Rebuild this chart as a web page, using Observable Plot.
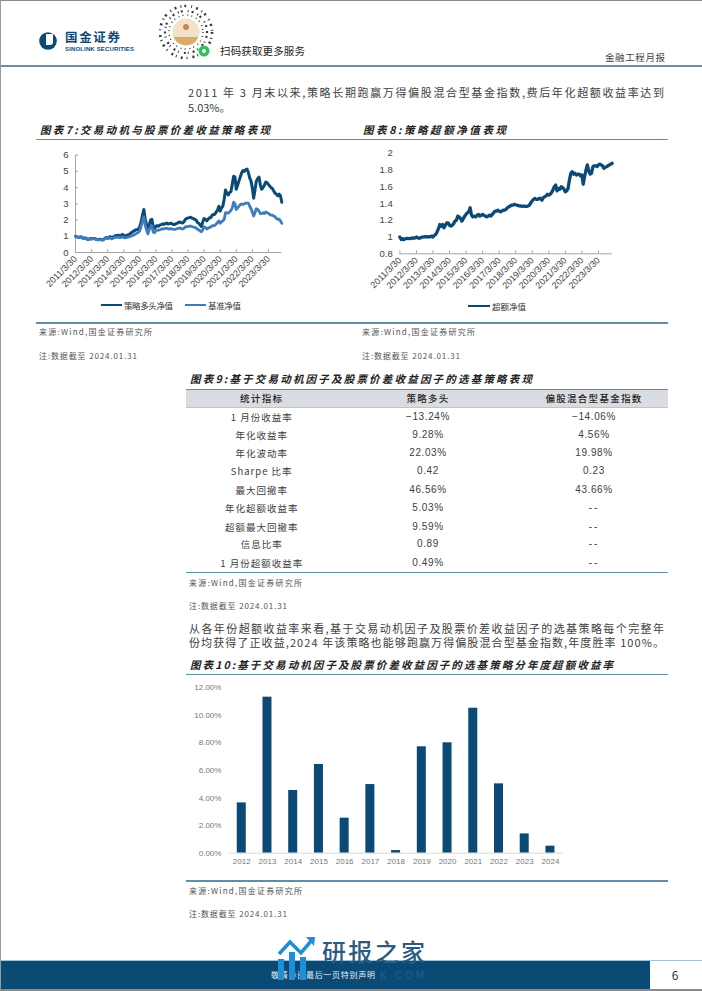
<!DOCTYPE html>
<html lang="zh">
<head>
<meta charset="utf-8">
<script src="https://cdn.jsdelivr.net/npm/d3@7"></script>
<script src="https://cdn.jsdelivr.net/npm/@observablehq/plot@0.6"></script>
<style>
html,body{margin:0;padding:0;background:#fff;width:702px;height:991px;overflow:hidden}
#page{position:relative;width:702px;height:991px;overflow:hidden;font-family:"Noto Sans CJK SC","Noto Sans",sans-serif;color:#333}
#page>*{position:absolute}
.t{white-space:nowrap}
svg{overflow:visible}
</style>
</head>
<body>
<div id="page"></div>
<script>
// ---------- data ----------
const months = [
"2011-03","2011-04","2011-05","2011-06","2011-07","2011-08","2011-09","2011-10","2011-11","2011-12",
"2012-01","2012-02","2012-03","2012-04","2012-05","2012-06","2012-07","2012-08","2012-09","2012-10","2012-11","2012-12",
"2013-01","2013-02","2013-03","2013-04","2013-05","2013-06","2013-07","2013-08","2013-09","2013-10","2013-11","2013-12",
"2014-01","2014-02","2014-03","2014-04","2014-05","2014-06","2014-07","2014-08","2014-09","2014-10","2014-11","2014-12",
"2015-01","2015-02","2015-03","2015-04","2015-05","2015-06","2015-07","2015-08","2015-09","2015-10","2015-11","2015-12",
"2016-01","2016-02","2016-03","2016-04","2016-05","2016-06","2016-07","2016-08","2016-09","2016-10","2016-11","2016-12",
"2017-01","2017-02","2017-03","2017-04","2017-05","2017-06","2017-07","2017-08","2017-09","2017-10","2017-11","2017-12",
"2018-01","2018-02","2018-03","2018-04","2018-05","2018-06","2018-07","2018-08","2018-09","2018-10","2018-11","2018-12",
"2019-01","2019-02","2019-03","2019-04","2019-05","2019-06","2019-07","2019-08","2019-09","2019-10","2019-11","2019-12",
"2020-01","2020-02","2020-03","2020-04","2020-05","2020-06","2020-07","2020-08","2020-09","2020-10","2020-11","2020-12",
"2021-01","2021-02","2021-03","2021-04","2021-05","2021-06","2021-07","2021-08","2021-09","2021-10","2021-11","2021-12",
"2022-01","2022-02","2022-03","2022-04","2022-05","2022-06","2022-07","2022-08","2022-09","2022-10","2022-11","2022-12",
"2023-01","2023-02","2023-03","2023-04","2023-05","2023-06","2023-07","2023-08","2023-09","2023-10","2023-11","2023-12",
"2024-01"];
const strategy = [
1.0,.97,.93,.95,.97,.92,.87,.9,.88,.8,
.82,.87,.85,.86,.87,.83,.81,.79,.82,.81,.77,.82,
.88,.92,.9,.93,.98,.88,.95,1.0,1.05,1.03,1.07,1.03,
1.05,1.12,1.03,1.02,1.05,1.08,1.1,1.18,1.25,1.3,1.35,1.4,
1.4,1.45,1.6,1.9,2.3,2.65,2.1,1.7,1.35,1.7,2.0,2.05,
1.55,1.5,1.62,1.65,1.62,1.7,1.72,1.76,1.74,1.78,1.82,1.75,
1.78,1.8,1.78,1.73,1.72,1.78,1.8,1.87,1.88,1.83,1.82,1.9,
2.05,2.1,2.13,2.15,2.18,2.12,2.08,2.05,2.0,1.85,1.8,1.7,
1.6,1.9,2.1,2.05,1.95,2.05,2.15,2.15,2.3,2.35,2.35,2.5,
2.6,2.85,2.55,2.75,2.85,3.3,3.85,3.65,3.55,3.7,3.75,4.2,
4.7,4.65,3.9,4.15,4.4,4.65,4.9,5.05,5.0,5.1,5.15,4.95,
4.6,4.4,4.0,3.35,3.85,4.4,4.55,4.65,4.15,3.9,4.0,4.15,
4.35,4.3,4.2,4.1,4.0,3.95,3.8,3.65,3.6,3.5,3.6,3.5,
3.1];
const benchmark = [
1.0,.96,.92,.93,.95,.9,.86,.88,.86,.79,
.81,.85,.83,.85,.85,.82,.8,.78,.8,.8,.76,.8,
.85,.88,.86,.88,.92,.84,.88,.92,.95,.93,.95,.92,
.93,.98,.92,.9,.92,.94,.96,1.0,1.03,1.05,1.1,1.15,
1.2,1.25,1.35,1.6,1.95,2.2,1.7,1.4,1.15,1.4,1.55,1.65,
1.25,1.22,1.35,1.38,1.38,1.4,1.43,1.47,1.46,1.48,1.5,1.46,
1.45,1.47,1.45,1.43,1.42,1.45,1.47,1.5,1.5,1.47,1.45,1.5,
1.58,1.6,1.6,1.62,1.63,1.6,1.57,1.55,1.52,1.42,1.4,1.33,
1.28,1.4,1.58,1.55,1.45,1.5,1.55,1.57,1.65,1.65,1.67,1.75,
1.85,1.95,1.8,1.9,1.95,2.05,2.45,2.45,2.42,2.5,2.6,2.75,
3.1,3.0,2.65,2.75,2.85,2.95,3.0,2.95,3.0,3.05,3.05,3.05,
2.85,2.7,2.5,2.25,2.45,2.7,2.65,2.55,2.4,2.4,2.45,2.4,
2.5,2.45,2.42,2.35,2.3,2.3,2.25,2.2,2.1,2.05,2.05,1.95,
1.8];
const excess = [
1.0,.97,.98,.97,.98,.985,.98,.985,.98,.99,
.985,.99,1.0,.99,.985,.99,1.0,1.0,1.005,1.0,1.005,1.0,
1.005,1.01,1.0,1.02,1.03,1.06,1.1,1.15,1.13,1.15,1.11,1.14,
1.17,1.17,1.14,1.13,1.14,1.16,1.19,1.2,1.25,1.24,1.22,1.19,
1.22,1.25,1.27,1.29,1.3,1.35,1.26,1.24,1.25,1.24,1.26,1.27,
1.25,1.26,1.27,1.26,1.25,1.24,1.25,1.26,1.25,1.27,1.29,1.31,
1.31,1.32,1.31,1.3,1.31,1.32,1.32,1.33,1.35,1.36,1.37,1.38,
1.38,1.39,1.385,1.38,1.375,1.37,1.37,1.365,1.37,1.365,1.365,1.37,
1.38,1.41,1.43,1.45,1.46,1.45,1.45,1.46,1.46,1.44,1.47,1.48,
1.49,1.51,1.5,1.51,1.53,1.56,1.6,1.62,1.55,1.58,1.57,1.6,
1.59,1.57,1.54,1.55,1.58,1.68,1.76,1.78,1.75,1.76,1.74,1.75,
1.75,1.73,1.74,1.63,1.72,1.8,1.86,1.79,1.75,1.76,1.84,1.85,
1.85,1.84,1.86,1.87,1.86,1.85,1.82,1.83,1.84,1.85,1.86,1.87,
1.88];
const xTickLabels = ["2011/3/30","2012/3/30","2013/3/30","2014/3/30","2015/3/30","2016/3/30","2017/3/30","2018/3/30","2019/3/30","2020/3/30","2021/3/30","2022/3/30","2023/3/30"];
const barYears = ["2012","2013","2014","2015","2016","2017","2018","2019","2020","2021","2022","2023","2024"];
const barValues = [3.65,11.32,4.55,6.44,2.54,4.98,0.19,7.72,8.01,10.52,5.03,1.40,0.51];
const tableHead = ["统计指标","策略多头","偏股混合型基金指数"];
const tableNames = ["1 月份收益率","年化收益率","年化波动率","Sharpe 比率","最大回撤率","年化超额收益率","超额最大回撤率","信息比率","1 月份超额收益率"];
const tableStrategy = ["−13.24%","9.28%","22.03%","0.42","46.56%","5.03%","9.59%","0.89","0.49%"];
const tableIndex = ["−14.06%","4.56%","19.98%","0.23","43.66%","--","--","--","--"];

// ---------- colours ----------
const navy = "#0b4a75", blue = "#3f7cbc", ruleC = "#5f8ea8", axisC = "#a6a6a6", inkC = "#404040";

// ---------- page helpers ----------
const page = document.getElementById("page");
function box(x, y, w, h, color) {
  const d = document.createElement("div");
  d.style.cssText = `left:${x}px;top:${y}px;width:${w}px;height:${h}px;background:${color}`;
  page.appendChild(d);
  return d;
}
function text(s, x, y, o = {}) {
  const d = document.createElement("div");
  d.className = "t";
  d.textContent = s;
  d.style.cssText = `top:${y - 12}px;height:24px;line-height:24px;font-size:${o.size || 10}px;color:${o.color || inkC};` +
    `font-weight:${o.weight || 400};font-style:${o.italic ? "italic" : "normal"};` +
    (o.font ? `font-family:${o.font};` : "") + (o.spacing ? `letter-spacing:${o.spacing}px;` : "");
  page.appendChild(d);
  if (o.width) {
    const nat = d.getBoundingClientRect().width;
    d.style.letterSpacing = ((o.width - nat) / (s.length - 1)) + "px";
  }
  const w = d.getBoundingClientRect().width;
  d.style.left = (o.center ? x - w / 2 : x) + "px";
  return d;
}
function place(svg, x, y) {
  const wrap = document.createElement("div");
  wrap.style.cssText = `left:${x}px;top:${y}px`;
  wrap.appendChild(svg);
  page.appendChild(wrap);
}
const arial = '"Liberation Sans",Arial,sans-serif';

// ---------- page frame ----------
box(0, 0, 702, 1, "#8a8a8a");
box(0, 0, 1, 991, "#9a9a9a");
box(0, 989, 702, 2, "#8a8a8a");
box(1, 65, 701, 2, "#6f8fa0");

// logo and QR badge (decorative)
const deco = document.createElement("div");
deco.style.cssText = "left:0;top:0;width:702px;height:70px";
deco.innerHTML = `<svg width="702" height="70">
  <circle cx="48" cy="41" r="8.8" fill="${navy}"/><path d="M46 34h7v8a3 3 0 0 1-3 3h-4z" fill="#fff"/>
  <g fill="none" stroke="#3a3a3a">
    <circle cx="186" cy="32" r="26" stroke-width="2.6" stroke-dasharray="2 4 1 3 2 5 1 4"/>
    <circle cx="186" cy="32" r="21" stroke-width="2.2" stroke-dasharray="1 3 2 4 1 2 2 5"/>
    <circle cx="186" cy="32" r="17" stroke-width="1.4" stroke-dasharray="1 3 1 4"/>
  </g>
  <circle cx="186" cy="32" r="13.5" fill="#f3e2c8"/>
  <path d="M173.6 37h24.8a13.5 13.5 0 0 1-24.8 0z" fill="#d9aa6a"/>
  <circle cx="186" cy="27" r="3" fill="#c9884a"/>
  <circle cx="204" cy="51" r="5.5" fill="#2fc25b"/>
  <circle cx="204" cy="51" r="2" fill="#fff"/>
</svg>`;
page.appendChild(deco);
text("国金证券", 65, 37, {size: 12.5, weight: 700, color: navy, width: 55});
text("SINOLINK SECURITIES", 65, 48.5, {size: 6, weight: 700, color: navy, font: arial, width: 69});
text("扫码获取更多服务", 220, 51, {size: 10.5, color: "#222", width: 85});
text("金融工程月报", 605, 57, {size: 9.5, color: "#444", width: 60});

// body paragraph
text("2011 年 3 月末以来,策略长期跑赢万得偏股混合型基金指数,费后年化超额收益率达到", 188, 91.5, {size: 11, width: 476});
text("5.03%。", 188, 107, {size: 11});

// ---------- section rules and captions ----------
const titleOpts = {size: 10.5, weight: 700, italic: true, color: "#222"};
text("图表7:交易动机与股票价差收益策略表现", 40, 130, {...titleOpts, width: 230});
text("图表8:策略超额净值表现", 363, 130, {...titleOpts, width: 143});
box(36, 139, 632, 1.4, ruleC);
box(36, 322, 632, 1.8, ruleC);
const src = {size: 8, color: "#555"};
const srcText = "来源:Wind,国金证券研究所";
const noteText = "注:数据截至 2024.01.31";
text(srcText, 39, 331.5, {...src, width: 113});
text(noteText, 39, 355.5, {...src, width: 98});
text(srcText, 362, 331.5, {...src, width: 113});
text(noteText, 362, 355.5, {...src, width: 98});

// ---------- table ----------
text("图表9:基于交易动机因子及股票价差收益因子的选基策略表现", 190, 379, {...titleOpts, width: 342});
box(186, 389, 482, 18, "#d9dde1");
box(186, 388.5, 482, 1.3, ruleC);
box(186, 406.5, 482, 1, "#b9c6cf");
box(186, 572, 482, 1.2, ruleC);
const colX = [261.7, 428, 594];
const rowY = [416.7, 435, 452.7, 471, 489.7, 508.3, 526.7, 544.3, 562.7];
tableHead.forEach((h, i) => text(h, colX[i], 398, {size: 9.5, weight: 500, color: "#222", spacing: 1.3, center: true}));
tableNames.forEach((n, i) => {
  text(n, colX[0], rowY[i], {size: 9.5, spacing: 1, center: true});
  text(tableStrategy[i], colX[1], rowY[i], {size: 10, spacing: .6, center: true, font: arial});
  text(tableIndex[i], colX[2], rowY[i], {size: 10, spacing: tableIndex[i] === "--" ? 2 : .6, center: true, font: arial});
});
text(srcText, 189, 582.5, {...src, width: 113});
text(noteText, 189, 605.5, {...src, width: 98});

// second paragraph
text("从各年份超额收益率来看,基于交易动机因子及股票价差收益因子的选基策略每个完整年", 189, 627.5, {size: 11, width: 475});
text("份均获得了正收益,2024 年该策略也能够跑赢万得偏股混合型基金指数,年度胜率 100%。", 189, 642, {size: 11, width: 475});

text("图表10:基于交易动机因子及股票价差收益因子的选基策略分年度超额收益率", 190, 665, {...titleOpts, width: 423});
box(186, 674, 482, 1.2, ruleC);
box(186, 880, 482, 1.8, ruleC);
text(srcText, 189, 890.5, {...src, width: 113});
text(noteText, 189, 914, {...src, width: 98});

// ---------- charts ----------
const parseMonth = m => new Date(m + "-28T00:00:00Z");
const rows = months.map((m, i) => ({date: parseMonth(m), strategy: strategy[i], benchmark: benchmark[i], excess: excess[i]}));
const tickDates = xTickLabels.map(s => {
  const [y, m, d] = s.split("/");
  return new Date(Date.UTC(+y, +m - 1, +d));
});
const xDomain = [rows[0].date, rows[rows.length - 1].date];
const labelByTime = new Map(tickDates.map((d, i) => [+d, xTickLabels[i]]));
const plotStyle = {fontFamily: arial, background: "transparent", overflow: "visible"};

function timeAxes(yMin, yTicks, fmt, withYLine) {
  return [
    Plot.ruleY([yMin], {stroke: axisC, strokeWidth: 1}),
    Plot.axisX({ticks: tickDates, tickSize: -3, tickPadding: 8, tickRotate: -45, stroke: axisC,
      tickFormat: d => labelByTime.get(+d), fontSize: 9, fill: "#444", label: null}),
    Plot.axisY({ticks: yTicks, tickSize: withYLine ? -3 : 0, tickPadding: withYLine ? 10 : 7, stroke: axisC,
      tickFormat: fmt, fontSize: 9.5, fill: "#444", label: null})
  ];
}

// Figure 7
place(Plot.plot({
  width: 260, height: 150, marginLeft: 39, marginRight: 14.7, marginTop: 14.7, marginBottom: 38,
  style: plotStyle,
  x: {type: "utc", domain: xDomain},
  y: {domain: [0, 6]},
  marks: [
    Plot.ruleX([xDomain[0]], {stroke: axisC, strokeWidth: 1}),
    ...timeAxes(0, [0, 1, 2, 3, 4, 5, 6], d => String(d), true),
    Plot.line(rows, {x: "date", y: "strategy", stroke: navy, strokeWidth: 3, curve: "linear"}),
    Plot.line(rows, {x: "date", y: "benchmark", stroke: blue, strokeWidth: 2.8, curve: "linear"})
  ]
}), 36, 140);
box(101, 303.5, 21, 2, navy);
text("策略多头净值", 124, 304.5, {size: 8.5, color: "#333", width: 49});
box(185, 303.5, 21, 2, blue);
text("基准净值", 208, 304.5, {size: 8.5, color: "#333", width: 33});

// Figure 8
place(Plot.plot({
  width: 270, height: 155, marginLeft: 47.3, marginRight: 10.3, marginTop: 12.7, marginBottom: 41.7,
  style: plotStyle,
  x: {type: "utc", domain: xDomain},
  y: {domain: [0.8, 2]},
  marks: [
    ...timeAxes(0.8, [0.8, 1, 1.2, 1.4, 1.6, 1.8, 2], d => String(+d.toFixed(1)), false),
    Plot.line(rows, {x: "date", y: "excess", stroke: navy, strokeWidth: 3.3, curve: "linear"})
  ]
}), 352, 140);
box(468, 305, 22, 2, navy);
text("超额净值", 492, 306, {size: 8.5, color: "#333", width: 34});

// Figure 10
const barRows = barYears.map((y, i) => ({year: y, value: barValues[i]}));
place(Plot.plot({
  width: 400, height: 195, marginLeft: 42.4, marginRight: 23.2, marginTop: 11.3, marginBottom: 18.3,
  style: plotStyle,
  x: {type: "band", domain: barYears, paddingInner: 0.65, paddingOuter: 0.325, round: false},
  y: {domain: [0, 12]},
  marks: [
    Plot.barY(barRows, {x: "year", y: "value", fill: navy}),
    Plot.ruleY([0], {stroke: "#d9d9d9", strokeWidth: 1}),
    Plot.axisX({tickSize: 0, tickPadding: 5, fontSize: 8, fill: "#777", label: null}),
    Plot.axisY({ticks: [0, 2, 4, 6, 8, 10, 12], tickSize: 0, tickPadding: 7.5, fontSize: 8, fill: "#777",
      tickFormat: d => d.toFixed(2) + "%", label: null})
  ]
}), 186, 676);

// ---------- footer ----------
box(1, 961, 649, 27.5, navy);
box(1, 960, 701, 1, "#9fc3d9");
text("6", 675, 975, {size: 12, color: "#333", center: true});
text("敬请参阅最后一页特别声明", 271, 975, {size: 8, color: "#e8eef3", width: 104});
const wm = document.createElement("div");
wm.style.cssText = "left:270px;top:935px;width:50px;height:50px";
wm.innerHTML = `<svg width="50" height="50">
  <g fill="#1e8fd6"><rect x="8" y="24" width="6" height="21"/><rect x="19" y="17" width="6" height="28"/><rect x="30" y="22" width="6" height="23"/></g>
  <path d="M9 19 L20 7 L31 18 L42 5" fill="none" stroke="#1e8fd6" stroke-width="3.5"/>
  <path d="M36 2 L45 2 L44 11 z" fill="#1e8fd6"/></svg>`;
page.appendChild(wm);
text("研报之家", 322, 951, {size: 24, color: "#2c5a82", weight: 500, width: 103});
text("K.COM", 380, 976, {size: 10, color: "#20608c", font: arial, width: 44});
</script>
</body>
</html>
